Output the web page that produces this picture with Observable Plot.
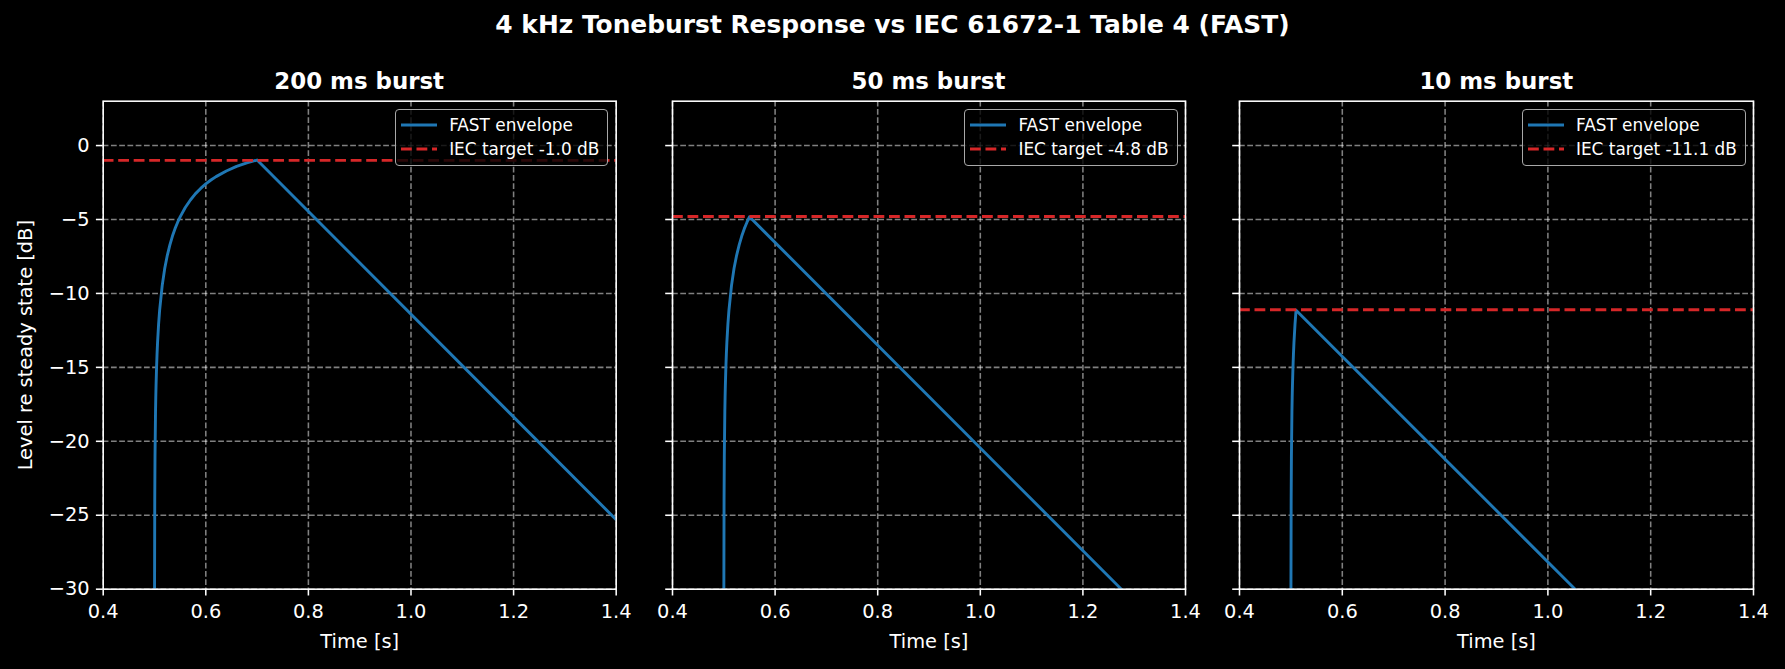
<!DOCTYPE html>
<html><head><meta charset="utf-8">
<script src="https://cdn.jsdelivr.net/npm/d3@7"></script>
<script src="https://cdn.jsdelivr.net/npm/@observablehq/plot@0.6"></script>
<style>
html,body{margin:0;padding:0;background:#000;}
#page{position:relative;width:1785px;height:669px;background:#000;overflow:hidden;font-family:"DejaVu Sans",sans-serif;color:#fff;}
.suptitle{position:absolute;left:0;top:9.5px;width:1785px;text-align:center;font-weight:bold;font-size:24.9px;line-height:30px;white-space:nowrap;}
.subtitle{position:absolute;top:65.7px;font-weight:bold;font-size:22.9px;line-height:30px;text-align:center;white-space:nowrap;}
.panel{position:absolute;top:0;}
.panel svg{overflow:visible;}
.legend{position:absolute;top:109.3px;height:57px;box-sizing:border-box;background:rgba(0,0,0,0.8);border:1.5px solid #a8a8a8;border-radius:4px;padding:2.5px 8px 0 5px;font-size:16.9px;line-height:24px;}
.legend .row{display:flex;align-items:center;height:24px;white-space:nowrap;}
.legend .row svg{margin-right:12px;flex:none;}
</style></head>
<body>
<div id="page"></div>
<script>
// ---- data ----
const suptitle = "4 kHz Toneburst Response vs IEC 61672-1 Table 4 (FAST)";
const burstLabels = ["200 ms burst", "50 ms burst", "10 ms burst"];
const iecTargets = [-1.0, -4.8, -11.1];
const seriesName = "FAST envelope";
const xLabel = "Time [s]";
const yLabel = "Level re steady state [dB]";
const xTicks = [0.4, 0.6, 0.8, 1.0, 1.2, 1.4];
const yTicks = [-30, -25, -20, -15, -10, -5, 0];

// 200 ms burst envelope (time s, level dB)
const env200T  = [0.5001, 0.5005, 0.501, 0.502, 0.5025, 0.503, 0.504, 0.505, 0.506, 0.508, 0.51, 0.515, 0.52, 0.525, 0.53, 0.535, 0.54, 0.545, 0.55, 0.56, 0.57, 0.58, 0.59, 0.60, 0.61, 0.62, 0.64, 0.66, 0.68, 0.70, 1.40];
const env200Db = [-30, -24.0, -21.0, -18.0, -17.03, -16.25, -15.02, -14.07, -13.29, -12.08, -11.14, -9.47, -8.30, -7.42, -6.71, -6.12, -5.62, -5.20, -4.82, -4.19, -3.68, -3.25, -2.90, -2.59, -2.33, -2.10, -1.72, -1.41, -1.17, -0.98, -25.30];
// 50 ms burst envelope
const env50T  = [0.5001, 0.5005, 0.501, 0.502, 0.5025, 0.503, 0.504, 0.505, 0.506, 0.508, 0.51, 0.515, 0.52, 0.525, 0.53, 0.535, 0.54, 0.545, 0.55, 1.275];
const env50Db = [-30, -24.0, -21.0, -18.0, -17.03, -16.25, -15.02, -14.07, -13.29, -12.08, -11.14, -9.47, -8.30, -7.42, -6.71, -6.12, -5.62, -5.20, -4.82, -30];
// 10 ms burst envelope
const env10T  = [0.5001, 0.5005, 0.501, 0.502, 0.5025, 0.503, 0.504, 0.505, 0.506, 0.508, 0.51, 1.053];
const env10Db = [-30, -24.0, -21.0, -18.0, -17.03, -16.25, -15.02, -14.07, -13.29, -12.08, -11.14, -30];

const envT = [env200T, env50T, env10T];
const envDb = [env200Db, env50Db, env10Db];

// ---- layout ----
const frameLeft = [102.7, 672, 1239.3];
const frameRight = [615.7, 1185, 1753.3];
const frameTop = 100.7, frameBottom = 588.7, H = 669;
const BLUE = "#1f77b4", RED = "#d62728";

const page = document.getElementById("page");
const st = document.createElement("div");
st.className = "suptitle"; st.textContent = suptitle;
page.appendChild(st);

const fmtY = d => d < 0 ? "\u2212" + Math.abs(d) : String(d);
const fmtX = d3.format(".1f");

function legendSample(color, dash) {
  const ns = "http://www.w3.org/2000/svg";
  const s = document.createElementNS(ns, "svg");
  s.setAttribute("width", 36); s.setAttribute("height", 10);
  const l = document.createElementNS(ns, "line");
  l.setAttribute("x1", 0); l.setAttribute("x2", 36);
  l.setAttribute("y1", 5); l.setAttribute("y2", 5);
  l.setAttribute("stroke", color); l.setAttribute("stroke-width", 2.9);
  if (dash) l.setAttribute("stroke-dasharray", dash);
  s.appendChild(l);
  return s;
}

for (let i = 0; i < 3; i++) {
  const svgLeft = i === 0 ? 0 : frameLeft[i] - 40;
  const mL = frameLeft[i] - svgLeft;
  const mR = i === 2 ? 1785 - frameRight[i] : 25;
  const width = frameRight[i] - svgLeft + mR;
  const data = envT[i].map((t, k) => ({t, db: envDb[i][k]}));
  const gridOpts = {stroke: "white", strokeOpacity: 0.5, strokeWidth: 1.55, strokeDasharray: "5.75,2.5"};
  const chart = Plot.plot({
    width, height: H,
    marginLeft: mL, marginRight: mR, marginTop: frameTop, marginBottom: H - frameBottom,
    style: {background: "transparent", color: "white", fontFamily: "DejaVu Sans", fontSize: "19.4px", overflow: "visible"},
    x: {domain: [0.4, 1.4]},
    y: {domain: [-30, 3]},
    marks: [
      Plot.gridX(xTicks, gridOpts),
      Plot.gridY(yTicks, gridOpts),
      Plot.line(data, {x: "t", y: "db", stroke: BLUE, strokeWidth: 2.9, clip: true}),
      Plot.ruleY([iecTargets[i]], {y: d => d, stroke: RED, strokeWidth: 2.9, strokeDasharray: "10.8,4.7"}),
      Plot.frame({stroke: "white", strokeWidth: 1.55}),
      Plot.axisX(xTicks, {tickSize: 6.8, tickPadding: 8, tickFormat: fmtX, label: null, strokeWidth: 1.55}),
      Plot.axisY(yTicks, {tickSize: 6.8, tickPadding: 6.8, tickFormat: i === 0 ? fmtY : () => "", label: null, strokeWidth: 1.55}),
      Plot.text([xLabel], {text: d => d, frameAnchor: "bottom", dy: 52.3, lineAnchor: "middle", textAnchor: "middle", fill: "white"}),
      i === 0 ? Plot.text([yLabel], {text: d => d, frameAnchor: "left", dx: -77.5, rotate: -90, lineAnchor: "middle", textAnchor: "middle", fill: "white"}) : null
    ]
  });
  const wrap = document.createElement("div");
  wrap.className = "panel";
  wrap.style.left = svgLeft + "px";
  wrap.appendChild(chart);
  page.appendChild(wrap);

  const t = document.createElement("div");
  t.className = "subtitle";
  t.style.left = frameLeft[i] + "px";
  t.style.width = (frameRight[i] - frameLeft[i]) + "px";
  t.textContent = burstLabels[i];
  page.appendChild(t);

  const lg = document.createElement("div");
  lg.className = "legend";
  lg.style.right = (1785 - (frameRight[i] - 7.4)) + "px";
  const r1 = document.createElement("div"); r1.className = "row";
  r1.appendChild(legendSample(BLUE, null));
  r1.appendChild(document.createTextNode(seriesName));
  const r2 = document.createElement("div"); r2.className = "row";
  r2.appendChild(legendSample(RED, "10.8,4.7"));
  r2.appendChild(document.createTextNode("IEC target " + iecTargets[i].toFixed(1) + " dB"));
  lg.appendChild(r1); lg.appendChild(r2);
  page.appendChild(lg);
}
</script>
</body></html>
